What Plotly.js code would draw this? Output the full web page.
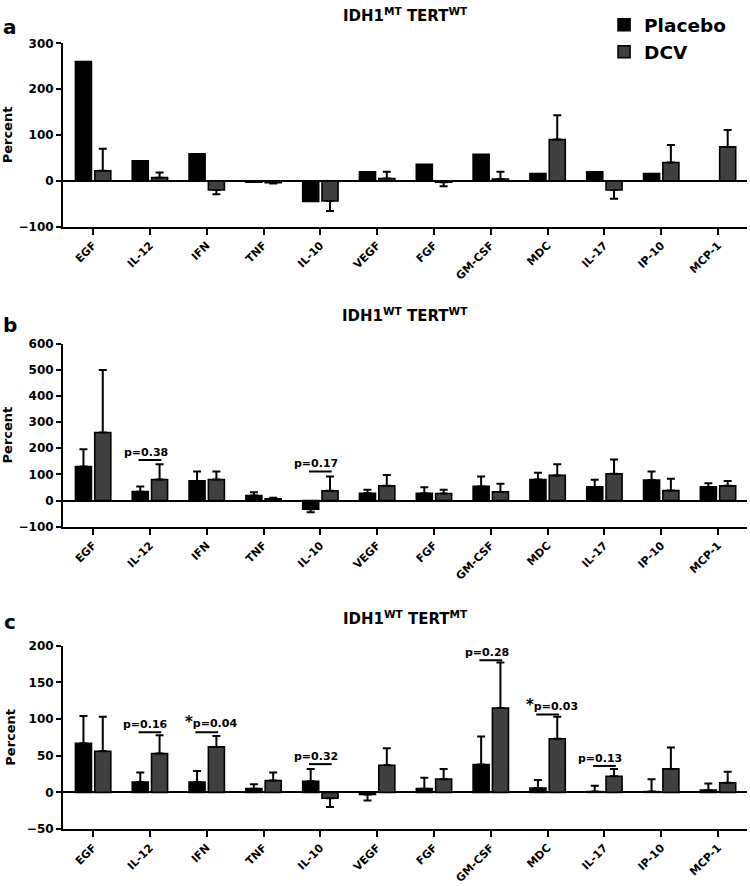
<!DOCTYPE html>
<html>
<head>
<meta charset="utf-8">
<script src="https://cdn.plot.ly/plotly-3.0.1.min.js"></script>
<style>
html,body{margin:0;padding:0;background:#fff;}
#chart{width:750px;height:886px;}
</style>
</head>
<body>
<div id="chart"></div>
<script>
// ---------- data ----------
var categories = ['EGF','IL-12','IFN','TNF','IL-10','VEGF','FGF','GM-CSF','MDC','IL-17','IP-10','MCP-1'];
var seriesNames = ['Placebo','DCV'];

// Panel a: IDH1 MT / TERT WT
var placeboA    = [260, 44, 59, -3, -45, 20, 36, 58, 16, 20, 16, 0];
var dcvA        = [22, 7, -20, -4, -44, 5, -3, 4, 90, -20, 40, 74];
var dcvErrA     = [48, 11, 9, 2, 22, 15, 9, 16, 53, 19, 38, 37];

// Panel b: IDH1 WT / TERT WT
var placeboB    = [130, 34, 75, 19, -33, 28, 28, 54, 80, 52, 78, 52];
var placeboErrB = [66, 20, 36, 13, 12, 13, 23, 38, 26, 27, 33, 14];
var dcvB        = [260, 80, 80, 7, 37, 56, 27, 33, 96, 102, 38, 56];
var dcvErrB     = [239, 59, 31, 4, 55, 42, 14, 31, 43, 55, 45, 19];

// Panel c: IDH1 WT / TERT MT
var placeboC    = [67, 14, 14, 5, 15, -3, 5, 38, 6, 1, 1, 3];
var placeboErrC = [37, 13, 15, 6, 17, 8, 15, 38, 11, 8, 17, 9];
var dcvC        = [56, 53, 62, 16, -8, 37, 18, 115, 73, 22, 32, 13];
var dcvErrC     = [47, 25, 15, 11, 12, 23, 14, 62, 30, 10, 29, 15];

// p-value brackets: category index, label, bracket height, significant
var pCatsB   = [1, 4];
var pTextB   = ['p=0.38', 'p=0.17'];
var pYB      = [155, 111];
var pSigB    = [false, false];

var pCatsC   = [1, 2, 4, 7, 8, 9];
var pTextC   = ['p=0.16', 'p=0.04', 'p=0.32', 'p=0.28', 'p=0.03', 'p=0.13'];
var pYC      = [82, 82, 38.5, 180, 106, 36];
var pSigC    = [false, true, false, false, true, false];

var panelTitles = ['IDH1<sup>MT</sup> TERT<sup>WT</sup>', 'IDH1<sup>WT</sup> TERT<sup>WT</sup>', 'IDH1<sup>WT</sup> TERT<sup>MT</sup>'];
var panelLetters = ['a', 'b', 'c'];
var yRanges = [[-100, 300], [-100, 600], [-50, 200]];
var yDticks = [100, 100, 50];

// ---------- styling ----------
var FONT = 'DejaVu Sans, Liberation Sans, Arial, sans-serif';
var colors = ['#000000', '#404040'];
var W = 750, H = 886;
var boxes = [[43.3, 226.7], [343.5, 526.7], [645.7, 829]];
var titleY = [15, 315, 618];
var letterY = [27, 325, 622];

function errs(vals, e) {
  var plus = [], minus = [];
  for (var i = 0; i < vals.length; i++) {
    if (vals[i] >= 0) { plus.push(e[i]); minus.push(0); }
    else { plus.push(0); minus.push(e[i]); }
  }
  return {plus: plus, minus: minus};
}

function barTrace(name, vals, e, idx, axisNum, show) {
  var t = {
    type: 'bar', name: name, x: categories, y: vals,
    xaxis: axisNum === 1 ? 'x' : 'x' + axisNum,
    yaxis: axisNum === 1 ? 'y' : 'y' + axisNum,
    marker: {color: colors[idx], line: {color: '#000', width: 1.6}},
    showlegend: show, legendgroup: name, hoverinfo: 'x+y'
  };
  if (e) {
    var ee = errs(vals, e);
    t.error_y = {type: 'data', symmetric: false, array: ee.plus, arrayminus: ee.minus,
                 color: '#000', thickness: 2, width: 4};
  }
  return t;
}

var data = [
  barTrace(seriesNames[0], placeboA, null, 0, 1, true),
  barTrace(seriesNames[1], dcvA, dcvErrA, 1, 1, true),
  barTrace(seriesNames[0], placeboB, placeboErrB, 0, 2, false),
  barTrace(seriesNames[1], dcvB, dcvErrB, 1, 2, false),
  barTrace(seriesNames[0], placeboC, placeboErrC, 0, 3, false),
  barTrace(seriesNames[1], dcvC, dcvErrC, 1, 3, false)
];

var layout = {
  width: W, height: H,
  margin: {l: 63, r: 3, t: 0, b: 0},
  paper_bgcolor: '#fff', plot_bgcolor: '#fff',
  font: {family: FONT, color: '#000', weight: 'bold'},
  barmode: 'group', bargap: 0.32, bargroupgap: 0.17,
  showlegend: true,
  legend: {x: 0.791, xanchor: 'left', y: 0.993, yanchor: 'top',
           font: {family: FONT, size: 18.5, weight: 'bold', color: '#000'},
           bgcolor: 'rgba(0,0,0,0)', tracegroupgap: 0, itemwidth: 30},
  annotations: [], shapes: []
};

for (var p = 0; p < 3; p++) {
  var sfx = p === 0 ? '' : String(p + 1);
  var dom = [1 - boxes[p][1] / H, 1 - boxes[p][0] / H];
  layout['xaxis' + sfx] = {
    domain: [0, 1], anchor: 'y' + sfx, type: 'category',
    range: [-0.53, 11.51], showline: true, linecolor: '#000', linewidth: 2,
    ticks: 'outside', ticklen: 6, tickwidth: 2, tickcolor: '#000',
    tickangle: -45, tickfont: {family: FONT, size: 11, weight: 'bold', color: '#000'},
    showgrid: false, zeroline: false, fixedrange: true
  };
  layout['yaxis' + sfx] = {
    domain: dom, anchor: 'x' + sfx, range: yRanges[p], dtick: yDticks[p], tick0: 0,
    showline: true, linecolor: '#000', linewidth: 2,
    ticks: 'outside', ticklen: 5, tickwidth: 2, tickcolor: '#000',
    tickfont: {family: FONT, size: 12, weight: 'bold', color: '#000'},
    showgrid: false, zeroline: true, zerolinecolor: '#000', zerolinewidth: 2,
    title: {text: 'Percent', font: {family: FONT, size: 13, weight: 'bold', color: '#000'}, standoff: 8},
    fixedrange: true
  };
  layout.annotations.push({
    xref: 'paper', yref: 'paper', x: 0.5, y: 1 - titleY[p] / H, xanchor: 'center', yanchor: 'middle',
    text: panelTitles[p], showarrow: false,
    font: {family: FONT, size: 15, weight: 'bold', color: '#000'}
  });
  layout.annotations.push({
    xref: 'paper', yref: 'paper', x: (10 - 63) / 684, y: 1 - letterY[p] / H, xanchor: 'center', yanchor: 'middle',
    text: panelLetters[p], showarrow: false,
    font: {family: FONT, size: 20, weight: 'bold', color: '#000'}
  });
}

function addP(cats, texts, ys, sig, axisNum) {
  var xr = axisNum === 1 ? 'x' : 'x' + axisNum;
  var yr = axisNum === 1 ? 'y' : 'y' + axisNum;
  for (var i = 0; i < cats.length; i++) {
    layout.shapes.push({type: 'line', xref: xr, yref: yr,
      x0: cats[i] - 0.2, x1: cats[i] + 0.2, y0: ys[i], y1: ys[i],
      line: {color: '#000', width: 2}});
    layout.annotations.push({xref: xr, yref: yr, x: cats[i], y: ys[i],
      xanchor: 'center', yanchor: 'bottom', yshift: -1, xshift: sig[i] ? 4 : -4,
      text: (sig[i] ? '<span style="font-size:15px">*</span>' : '') + texts[i], showarrow: false,
      font: {family: FONT, size: 11, weight: 'bold', color: '#000'}});
  }
}
addP(pCatsB, pTextB, pYB, pSigB, 2);
addP(pCatsC, pTextC, pYC, pSigC, 3);

Plotly.newPlot('chart', data, layout, {displayModeBar: false, staticPlot: true});
</script>
</body>
</html>
